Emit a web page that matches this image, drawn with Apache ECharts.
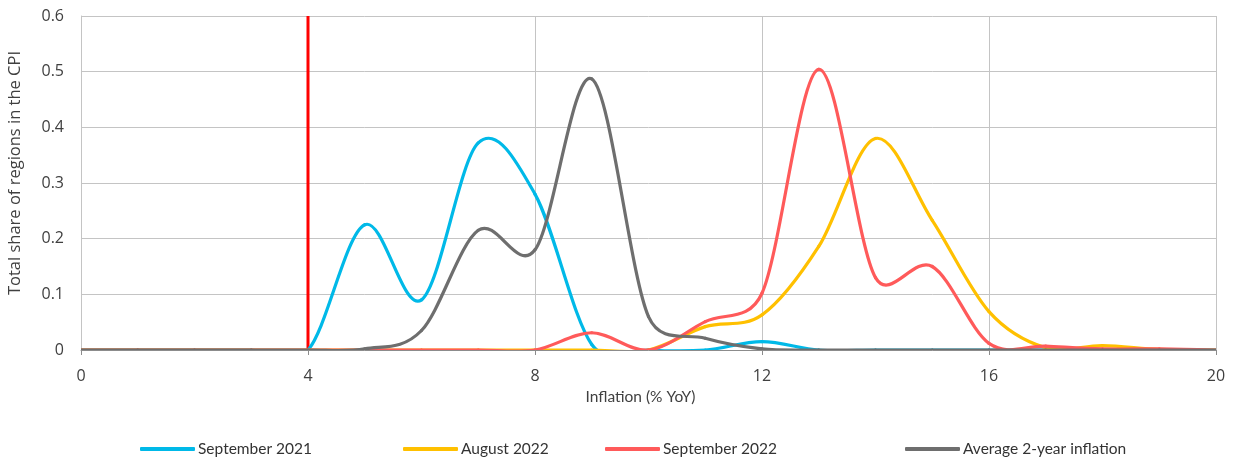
<!DOCTYPE html>
<html>
<head>
<meta charset="utf-8">
<script src="https://cdn.jsdelivr.net/npm/echarts@6/dist/echarts.min.js"></script>
<style>
  html, body { margin: 0; padding: 0; background: #ffffff; }
  #chart { width: 1234px; height: 464px; }
</style>
</head>
<body>
<div id="chart"></div>
<script>
// Inflation bucket (% YoY) for each point
const inflation = [0, 1, 2, 3, 4, 5, 6, 7, 8, 9, 10, 11, 12, 13, 14, 15, 16, 17, 18, 19, 20];

// Share of regions in the CPI basket per inflation bucket
const sep2021 = [0, 0, 0, 0, 0, 0.225, 0.09, 0.372, 0.28, 0.01, 0, 0, 0.015, 0, 0, 0, 0, 0, 0, 0, 0];
const aug2022 = [0, 0, 0, 0, 0, 0, 0, 0, 0, 0, 0, 0.042, 0.063, 0.186, 0.38, 0.233, 0.069, 0.004, 0.008, 0.001, 0];
const sep2022 = [0, 0, 0, 0, 0, 0, 0, 0, 0, 0.031, 0, 0.051, 0.102, 0.504, 0.13, 0.15, 0.012, 0.007, 0.002, 0.002, 0];
const avg2y   = [0, 0, 0, 0, 0, 0.002, 0.035, 0.215, 0.18, 0.487, 0.06, 0.021, 0.002, 0, 0, 0, 0, 0, 0, 0, 0];

// Inflation target marker
const targetLine = [[4, 0], [4, 0.6]];

const seriesNames = ['September 2021', 'August 2022', 'September 2022', 'Average 2-year inflation'];
const seriesValues = [sep2021, aug2022, sep2022, avg2y];
const seriesColors = ['#00B9E8', '#FFC000', '#FF5A5A', '#6E6E6E'];
const legendLeft = [140, 403, 605, 905];

const pairs = vals => inflation.map((x, i) => [x, vals[i]]);

// Smoothed curve: each segment is a cubic Bezier whose handles follow the
// neighbour-to-neighbour direction (1/6 of it), limited to half the segment length.
function handle(prev, cur, next, segLen) {
  const tx = next[0] - prev[0];
  const ty = next[1] - prev[1];
  const len = Math.hypot(tx, ty);
  if (len === 0) return [0, 0];
  const f = Math.min(1 / 6, segLen / (2 * len));
  return [tx * f, ty * f];
}

function makeRenderer(color) {
  return function (params, api) {
    const i = params.dataIndexInside;
    const n = params.dataInsideLength;
    if (i >= n - 1) return null;
    const pt = j => api.coord([api.value(0, j), api.value(1, j)]);
    const p0 = pt(Math.max(i - 1, 0));
    const p1 = pt(i);
    const p2 = pt(i + 1);
    const p3 = pt(Math.min(i + 2, n - 1));
    const segLen = Math.hypot(p2[0] - p1[0], p2[1] - p1[1]);
    const h1 = handle(p0, p1, p2, segLen);
    const h2 = handle(p1, p2, p3, segLen);
    return {
      type: 'bezierCurve',
      shape: {
        x1: p1[0], y1: p1[1],
        x2: p2[0], y2: p2[1],
        cpx1: p1[0] + h1[0], cpy1: p1[1] + h1[1],
        cpx2: p2[0] - h2[0], cpy2: p2[1] - h2[1]
      },
      style: { stroke: color, lineWidth: 3.2, fill: null, lineCap: 'round', lineJoin: 'round' },
      silent: true
    };
  };
}

const chart = echarts.init(document.getElementById('chart'), null, { renderer: 'canvas' });

const gridColor = '#c4c4c4';
const labelFont = '"Open Sans", sans-serif';

chart.setOption({
  animation: false,
  backgroundColor: '#ffffff',
  grid: { left: 81, right: 18, top: 16, bottom: 114, containLabel: false, outerBoundsMode: 'none' },
  legend: seriesNames.map((n, i) => ({
    data: [n],
    left: legendLeft[i],
    top: 441,
    padding: 0,
    icon: 'roundRect',
    itemWidth: 55,
    itemHeight: 4,
    itemGap: 0,
    textStyle: { fontFamily: 'Lato, sans-serif', fontSize: 15.5, color: '#333333', padding: [0, 0, 0, -2] },
    selectedMode: false
  })),
  xAxis: {
    type: 'value',
    min: 0, max: 20, interval: 4,
    name: 'Inflation (% YoY)',
    nameLocation: 'middle',
    nameGap: 37,
    nameTextStyle: { fontFamily: 'Lato, sans-serif', fontSize: 15.5, color: '#404040', padding: [0, 16, 0, 0] },
    axisLine: { show: true, lineStyle: { color: '#8c8c8c', width: 1 } },
    axisTick: { show: true, length: 5, lineStyle: { color: '#8c8c8c' } },
    axisLabel: { fontFamily: labelFont, fontSize: 16, color: '#404040', margin: 18 },
    splitLine: { show: true, lineStyle: { color: gridColor, width: 1 } }
  },
  yAxis: {
    type: 'value',
    min: 0, max: 0.6, interval: 0.1,
    name: 'Total share of regions in the CPI',
    nameLocation: 'middle',
    nameGap: 57,
    nameTextStyle: { fontFamily: labelFont, fontSize: 16.5, color: '#404040', padding: [0, 0, 0, 20] },
    axisLine: { show: true, lineStyle: { color: '#c4c4c4', width: 1 } },
    axisTick: { show: false },
    axisLabel: { fontFamily: labelFont, fontSize: 16, color: '#404040', margin: 17 },
    splitLine: { show: true, lineStyle: { color: gridColor, width: 1 } }
  },
  series: [
    {
      name: 'target',
      type: 'line',
      data: targetLine,
      symbol: 'none',
      silent: true,
      lineStyle: { color: '#FF0000', width: 3 },
      z: 1
    }
  ].concat(seriesNames.map((n, i) => ({
    name: n,
    type: 'custom',
    coordinateSystem: 'cartesian2d',
    clip: true,
    data: pairs(seriesValues[i]),
    encode: { x: 0, y: 1 },
    itemStyle: { color: seriesColors[i] },
    renderItem: makeRenderer(seriesColors[i]),
    z: 2 + i
  })))
});
</script>
</body>
</html>
